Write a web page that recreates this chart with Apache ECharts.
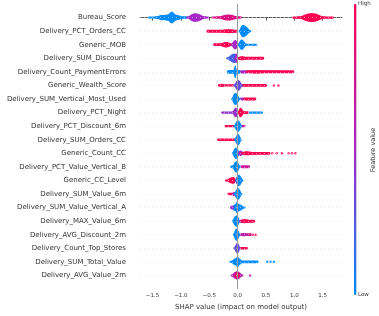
<!DOCTYPE html>
<html><head><meta charset="utf-8">
<script src="https://cdn.jsdelivr.net/npm/echarts@6/dist/echarts.min.js"></script>
<style>html,body{margin:0;padding:0;background:#fff}#c{width:379px;height:316px}</style>
</head><body><div id="c"></div>
<script>
const features = ['Bureau_Score','Delivery_PCT_Orders_CC','Generic_MOB','Delivery_SUM_Discount','Delivery_Count_PaymentErrors','Generic_Wealth_Score','Delivery_SUM_Vertical_Most_Used','Delivery_PCT_Night','Delivery_PCT_Discount_6m','Delivery_SUM_Orders_CC','Generic_Count_CC','Delivery_PCT_Value_Vertical_B','Generic_CC_Level','Delivery_SUM_Value_6m','Delivery_SUM_Value_Vertical_A','Delivery_MAX_Value_6m','Delivery_AVG_Discount_2m','Delivery_Count_Top_Stores','Delivery_SUM_Total_Value','Delivery_AVG_Value_2m'];
const xTicks = [-1.5, -1.0, -0.5, 0.0, 0.5, 1.0, 1.5];
// strokes: [startShap, featureRow, featureValue, endShap, halfThickness(rows)]
const strokes = [
  [-1.58,0,0.0,-0.88,0.07],[-0.9,0,0.5,-0.5,0.07],[-0.46,0,0.8,0.08,0.07],[0.96,0,1,1.7,0.08],
  [-0.55,1,1,0.0,0.11],
  [-0.43,2,1,-0.1,0.1],[0.05,2,0,0.35,0.08],
  [0.0,3,1,0.47,0.11],
  [-0.19,4,0,0.06,0.14],[0.04,4,0.5,0.18,0.12],[0.15,4,1,1.0,0.11],
  [-0.35,5,1,-0.06,0.08],[0.06,5,1,0.52,0.1],
  [0.04,6,0.5,0.12,0.11],[0.1,6,1,0.33,0.11],
  [-0.29,7,0.45,-0.05,0.08],[0.08,7,1,0.2,0.1],[0.2,7,0,0.45,0.08],
  [-0.23,8,1,-0.05,0.09],[0.05,8,0.7,0.14,0.09],
  [-0.36,9,1,-0.03,0.09],
  [0.05,10,1,0.58,0.1],
  [-0.13,11,0,0.05,0.1],[0.05,11,0.7,0.22,0.11],
  [-0.18,13,1,-0.03,0.1],
  [0.04,15,1,0.31,0.11],
  [0.05,16,0.8,0.25,0.1],
  [0.04,17,1,0.18,0.09],
  [0.05,18,0,0.37,0.1]
];
// bulges: [peakShap, featureRow, featureValue, startShap, endShap, halfHeight(rows)]
const bulges = [
  [-1.17,0,0.0,-1.45,-0.9,0.25],[-1.16,0,0.0,-1.26,-1.06,0.43],[-1.33,0,0.0,-1.45,-1.22,0.2],
  [-0.75,0,0.5,-0.9,-0.55,0.32],[-0.16,0,0.8,-0.38,0.05,0.22],[1.31,0,1,1.05,1.55,0.33],
  [-0.15,1,1,-0.35,0.0,0.15],[0.09,1,0,0.02,0.24,0.45],
  [-0.2,2,1,-0.35,-0.08,0.2],[-0.04,2,0.5,-0.12,0.02,0.35],[0.07,2,0,0.0,0.16,0.38],
  [-0.05,3,0.2,-0.2,0.02,0.35],[-0.02,3,0.5,-0.06,0.02,0.35],[0.07,3,1,0.0,0.2,0.15],
  [-0.04,4,0,-0.08,-0.01,0.48],[0.3,4,1,0.15,0.7,0.12],
  [-0.28,5,1,-0.32,-0.24,0.13],[0.01,5,0.3,-0.07,0.09,0.4],
  [-0.04,6,0,-0.11,0.05,0.45],
  [-0.03,7,0.45,-0.1,0.02,0.35],[0.05,7,1,0.0,0.12,0.35],
  [0.01,8,0,-0.07,0.08,0.42],
  [0.01,9,0,-0.06,0.07,0.42],
  [-0.03,10,0,-0.1,0.05,0.42],[0.05,10,0.5,0.0,0.12,0.2],[0.15,10,1,0.05,0.35,0.15],
  [-0.02,11,0,-0.1,0.05,0.42],
  [-0.07,12,1,-0.22,-0.02,0.25],[0.0,12,0.5,-0.05,0.04,0.3],[0.02,12,0,-0.04,0.1,0.42],
  [-0.07,13,0.6,-0.1,-0.02,0.15],[0.01,13,0,-0.07,0.08,0.42],
  [-0.01,14,0,-0.13,0.14,0.3],[-0.01,14,0,-0.05,0.03,0.45],[-0.1,14,0.5,-0.13,-0.06,0.15],
  [-0.02,15,0,-0.1,0.05,0.42],[0.07,15,0.5,0.03,0.15,0.12],[0.12,15,1,0.04,0.25,0.15],
  [-0.02,16,0,-0.08,0.05,0.45],[0.1,16,0.6,0.04,0.2,0.12],
  [0.0,17,0.3,-0.07,0.05,0.4],
  [0.0,18,0,-0.14,0.1,0.3],[0.0,18,0,-0.04,0.04,0.45],
  [-0.01,19,0.6,-0.12,0.1,0.3],[-0.01,19,1,-0.05,0.04,0.3]
];
// dots: [shap, featureRow, featureValue]
const dots = [
  [0.64,5,1],[0.72,5,1],
  [0.61,10,1],[0.69,10,1],[0.78,10,1],[0.9,10,1],[0.96,10,1],[1.02,10,1],
  [0.27,16,1],[0.32,16,1],
  [0.52,18,0],[0.58,18,0],[0.64,18,0],
  [0.22,19,0.6]
];

function renderBulge(params, api){
  const xp = api.value(0), row = api.value(1), x0 = api.value(3), x1 = api.value(4), h = api.value(5);
  const pc = api.coord([xp,row]), p0 = api.coord([x0,row]), p1 = api.coord([x1,row]);
  const hp = Math.abs(api.size([0,h])[1]);
  const top = [], bot = [], N = 12;
  for (let i=0;i<=N;i++){ const u=1-i/N; const x=pc[0]-(pc[0]-p0[0])*u; const o=Math.max(hp*Math.pow(1-u*u,1.5),1); top.push([x,pc[1]-o]); bot.push([x,pc[1]+o]); }
  for (let i=1;i<=N;i++){ const u=i/N; const x=pc[0]+(p1[0]-pc[0])*u; const o=Math.max(hp*Math.pow(1-u*u,1.5),1); top.push([x,pc[1]-o]); bot.push([x,pc[1]+o]); }
  return {type:'polygon', shape:{points: top.concat(bot.reverse())}, style:{fill: api.visual('color')}};
}
function renderStroke(params, api){
  const row = api.value(1);
  const p0 = api.coord([api.value(0),row]), p1 = api.coord([api.value(3),row]);
  const t = Math.max(Math.abs(api.size([0,api.value(4)])[1]),0.8);
  return {type:'rect', shape:{x:p0[0], y:p0[1]-t, width:p1[0]-p0[0], height:2*t, r:t}, style:{fill: api.visual('color')}};
}

const chart = echarts.init(document.getElementById('c'), null, {renderer:'canvas'});
chart.setOption({
  animation:false,
  grid:{left:140, right:37, top:4, bottom:21},
  xAxis:{type:'value', min:-1.72, max:1.84,
    axisLine:{lineStyle:{color:'#333', width:0.8}},
    axisTick:{customValues:xTicks, length:3, lineStyle:{color:'#333', width:0.8}},
    axisLabel:{customValues:xTicks, fontSize:5.5, color:'#333', margin:4, fontFamily:'DejaVu Sans',
      formatter: v => (v<0?'\u2212':'') + Math.abs(v).toFixed(1)},
    splitLine:{show:false},
    name:'SHAP value (impact on model output)', nameLocation:'middle', nameGap:15,
    nameTextStyle:{fontSize:7, color:'#333', fontFamily:'DejaVu Sans'}},
  yAxis:{type:'value', min:-1, max:20, interval:1, inverse:true,
    axisLine:{show:false}, axisTick:{show:false}, splitLine:{show:false},
    axisLabel:{fontSize:7, color:'#333', margin:14, fontFamily:'DejaVu Sans',
      formatter: v => features[v] !== undefined ? features[v] : ''}},
  visualMap:{type:'continuous', min:0, max:1, dimension:2, seriesIndex:[1,2,3],
    inRange:{color:['#008bfb','#a626c6','#ff0051']},
    orient:'vertical', left:354, top:4, itemWidth:2.5, itemHeight:291, padding:0,
    calculable:false, text:null, showLabel:false},
  graphic:[
    {type:'text', left:358, top:1, style:{text:'High', fontSize:5.5, fill:'#333', fontFamily:'DejaVu Sans'}},
    {type:'text', left:358, top:292, style:{text:'Low', fontSize:5.5, fill:'#333', fontFamily:'DejaVu Sans'}},
    {type:'text', x:373, y:150, rotation:Math.PI/2, style:{text:'Feature value', fontSize:6.5, fill:'#333', fontFamily:'DejaVu Sans', align:'center', verticalAlign:'middle'}}
  ],
  series:[
    {type:'scatter', data:[], z:1, silent:true,
      markLine:{silent:true, symbol:'none', label:{show:false},
        data: features.map((f,i)=>({yAxis:i, lineStyle:{color:'#dddddd', type:[1,3], width:0.6}}))
          .concat([{xAxis:0, lineStyle:{color:'#999999', type:'solid', width:1}}])}},
    {type:'custom', data:strokes, renderItem:renderStroke, encode:{x:0, y:1}, z:2, silent:true},
    {type:'custom', data:bulges, renderItem:renderBulge, encode:{x:0, y:1}, z:3, silent:true},
    {type:'scatter', data:dots, symbolSize:2.6, encode:{x:0, y:1}, z:4, silent:true}
  ]
});
</script></body></html>
